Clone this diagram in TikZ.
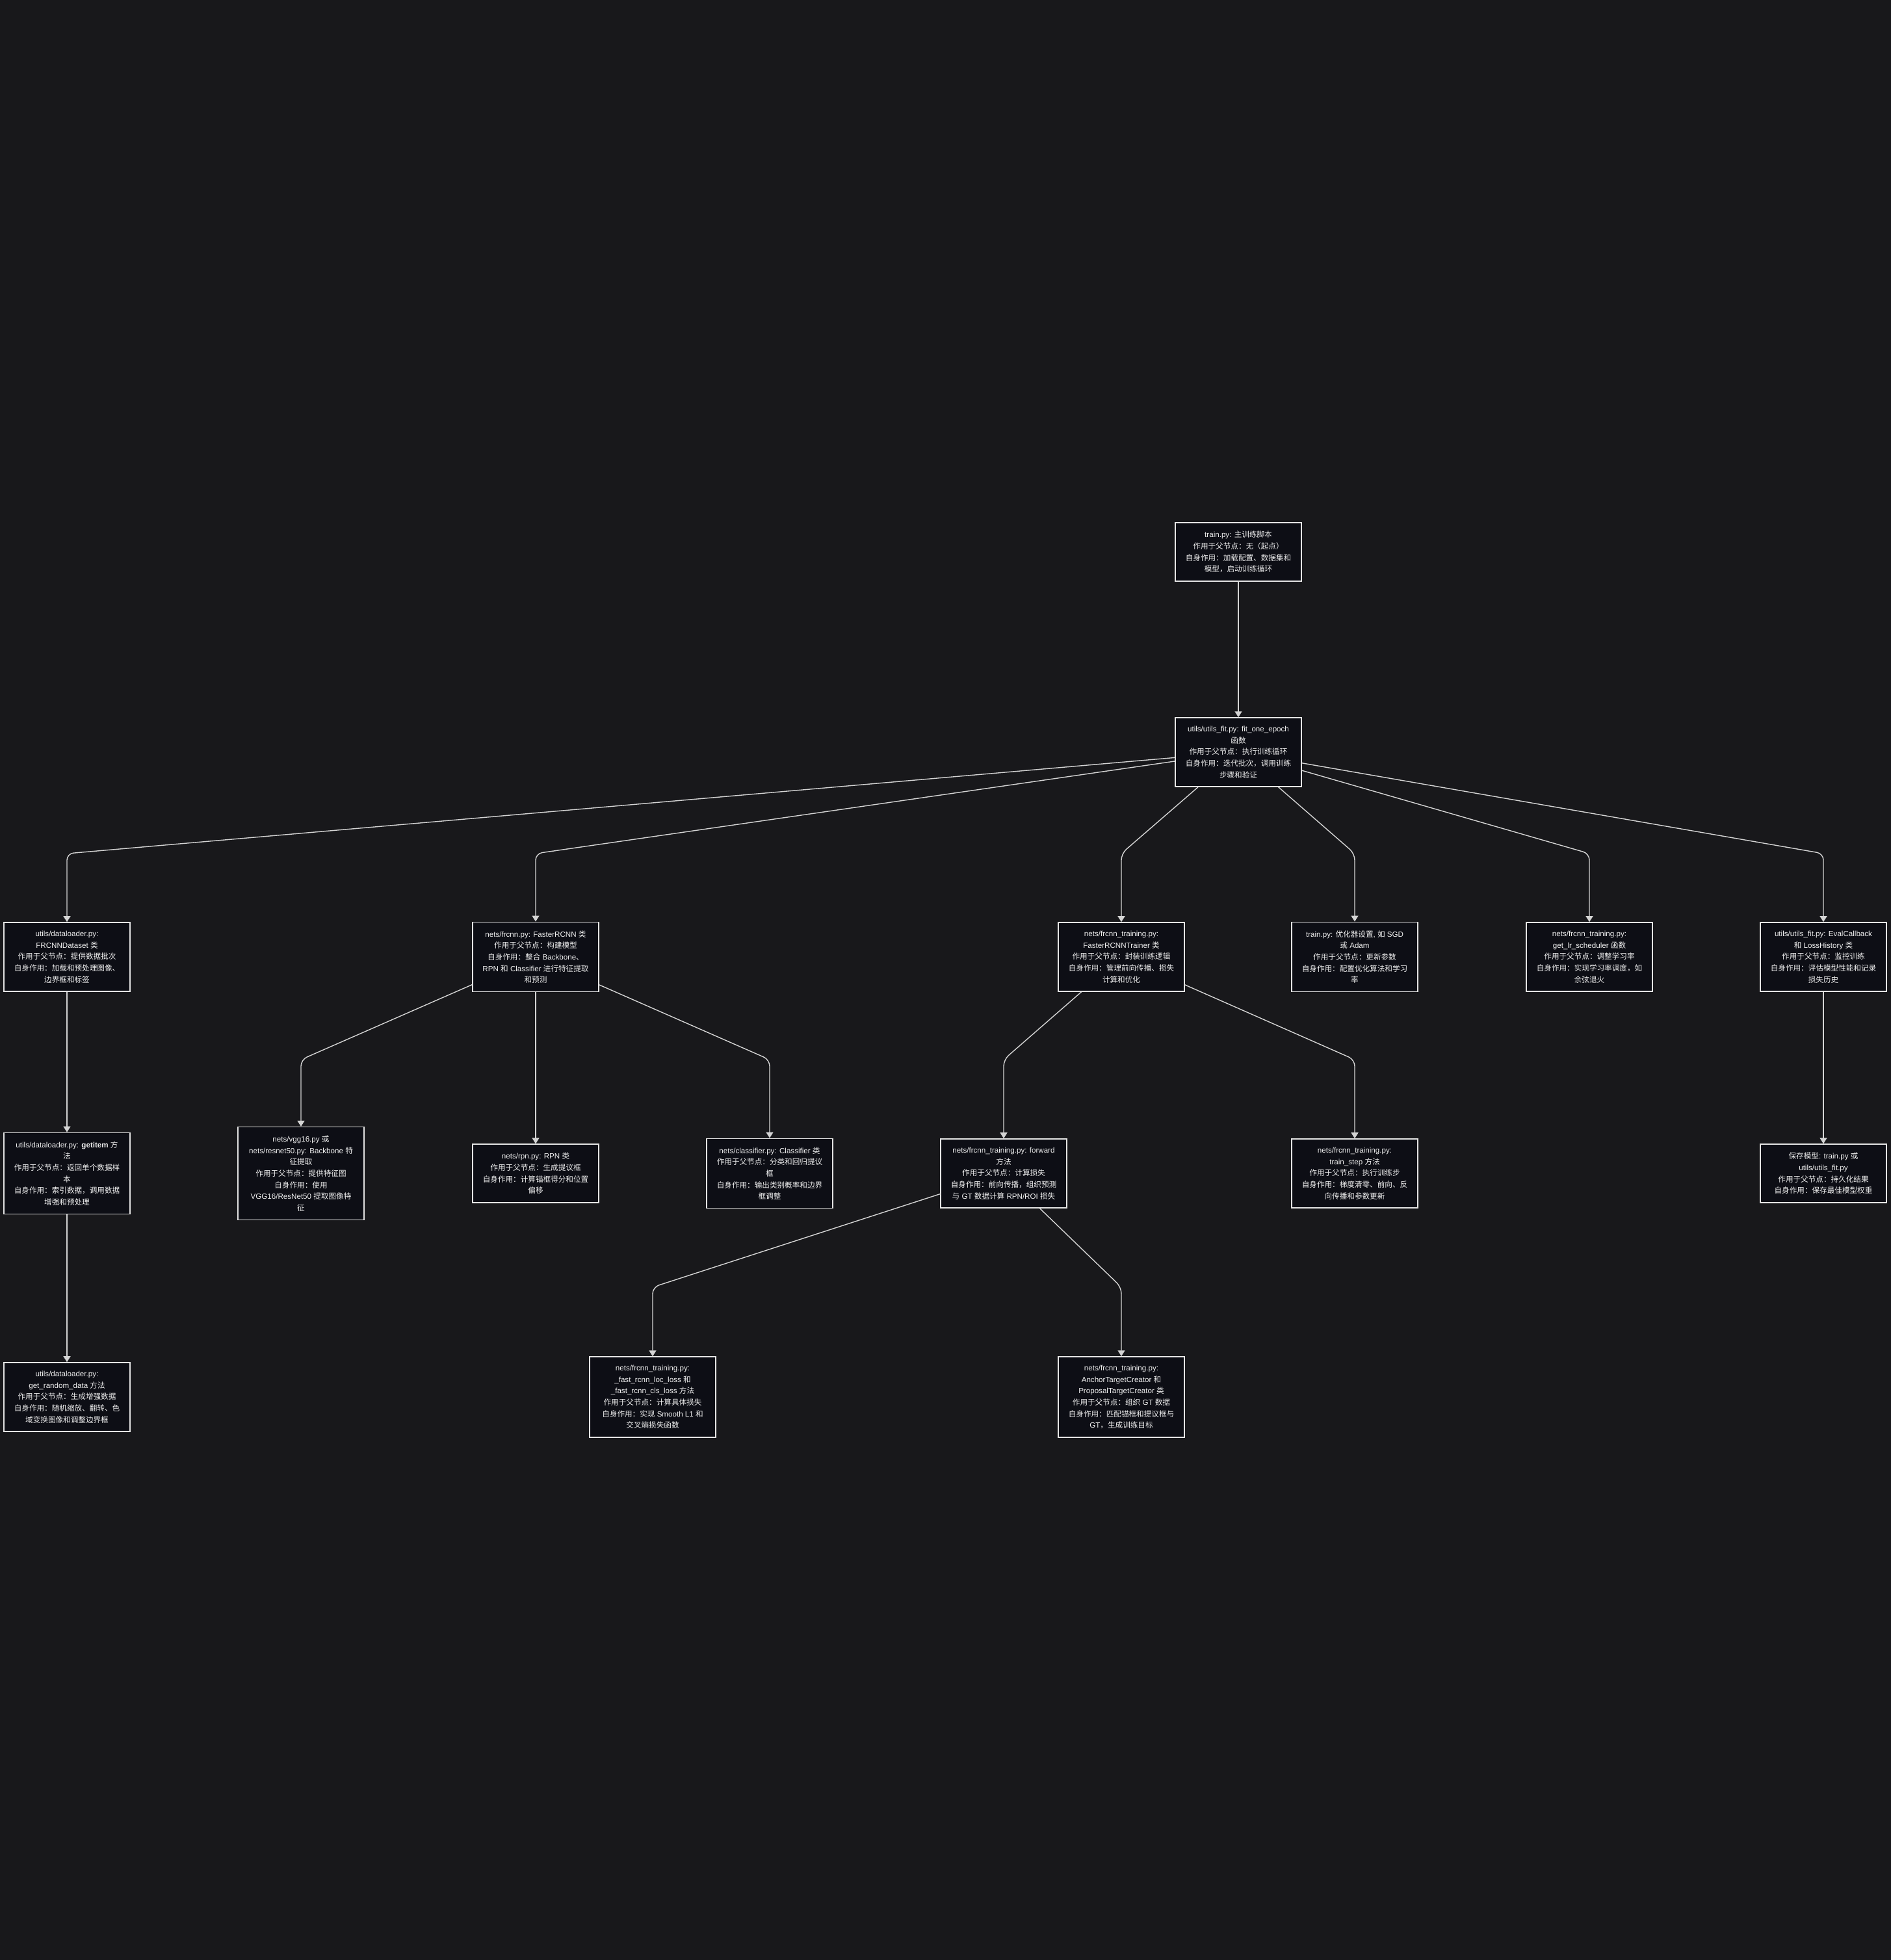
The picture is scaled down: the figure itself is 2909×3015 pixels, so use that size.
\documentclass[tikz,border=0pt]{standalone}
\usepackage{fontspec}
\usepackage{tikz}
\usetikzlibrary{arrows.meta}
\setmainfont{Liberation Sans}
\newfontfamily\cjk{Noto Sans CJK SC}
\newfontfamily\lat{Liberation Sans}
\XeTeXinterchartokenstate=1
\newXeTeXintercharclass\cjkclass
\newcount\cjkcnt
\cjkcnt="3000
\loop\XeTeXcharclass\cjkcnt=\cjkclass\relax\advance\cjkcnt by 1\relax\ifnum\cjkcnt<"3040 \repeat
\cjkcnt="4E00
\loop\XeTeXcharclass\cjkcnt=\cjkclass\relax\advance\cjkcnt by 1\relax\ifnum\cjkcnt<"A000 \repeat
\cjkcnt="FF00
\loop\XeTeXcharclass\cjkcnt=\cjkclass\relax\advance\cjkcnt by 1\relax\ifnum\cjkcnt<"FFF0 \repeat
\XeTeXinterchartoks 0 \cjkclass={\cjk}
\XeTeXinterchartoks 4095 \cjkclass={\cjk}
\XeTeXinterchartoks \cjkclass 0={\lat}
\XeTeXinterchartoks \cjkclass 4095={\lat}
\definecolor{bg}{RGB}{24,24,27}
\definecolor{boxfill}{RGB}{13,14,21}
\definecolor{boxline}{RGB}{228,228,228}
\definecolor{boxtext}{RGB}{240,240,240}
\definecolor{linkcol}{RGB}{212,212,212}

\begin{document}
\begin{tikzpicture}[x=1pt,y=-1pt,
    box/.style={draw=boxline,fill=boxfill,text=boxtext,line width=1.4pt,minimum width=194pt,inner xsep=5pt,inner ysep=13pt,align=center,font=\fontsize{11.6pt}{17.7pt}\selectfont},
    link/.style={draw=linkcol,line width=1.4pt,rounded corners=10pt,-{Triangle[length=9pt,width=11pt]}}]
        \fill[bg] (0,0) rectangle (2909,3015);
        \useasboundingbox (0,0) rectangle (2909,3015);
        \coordinate (row3) at (0,1313);
        \coordinate (row4) at (0,1630);
        \coordinate (row5) at (0,1980);
        \node[box] (train) at (1905,849) {train.py: 主训练脚本\\作用于父节点：无（起点）\\自身作用：加载配置、数据集和\\模型，启动训练循环};
        \node[box] (fit) at (1905,1157) {utils/utils\_fit.py: fit\_one\_epoch\\函数\\作用于父节点：执行训练循环\\自身作用：迭代批次，调用训练\\步骤和验证};
        \node[box] (dataset) at (103,1472) {utils/dataloader.py:\\FRCNNDataset 类\\作用于父节点：提供数据批次\\自身作用：加载和预处理图像、\\边界框和标签};
        \node[box] (frcnn) at (824,1472) {nets/frcnn.py: FasterRCNN 类\\作用于父节点：构建模型\\自身作用：整合 Backbone、\\RPN 和 Classifier 进行特征提取\\和预测};
        \node[box] (trainer) at (1725,1472) {nets/frcnn\_training.py:\\FasterRCNNTrainer 类\\作用于父节点：封装训练逻辑\\自身作用：管理前向传播、损失\\计算和优化};
        \node[box] (optim) at (2084,1472) {train.py: 优化器设置, 如 SGD\\或 Adam\\作用于父节点：更新参数\\自身作用：配置优化算法和学习\\率};
        \node[box] (lrsched) at (2445,1472) {nets/frcnn\_training.py:\\get\_lr\_scheduler 函数\\作用于父节点：调整学习率\\自身作用：实现学习率调度，如\\余弦退火};
        \node[box] (evalcb) at (2805,1472) {utils/utils\_fit.py: EvalCallback\\和 LossHistory 类\\作用于父节点：监控训练\\自身作用：评估模型性能和记录\\损失历史};
        \node[box] (getitem) at (103,1805) {utils/dataloader.py: \textbf{getitem} 方\\法\\作用于父节点：返回单个数据样\\本\\自身作用：索引数据，调用数据\\增强和预处理};
        \node[box] (backbone) at (463,1805) {nets/vgg16.py 或\\nets/resnet50.py: Backbone 特\\征提取\\作用于父节点：提供特征图\\自身作用：使用\\VGG16/ResNet50 提取图像特\\征};
        \node[box] (rpn) at (824,1805) {nets/rpn.py: RPN 类\\作用于父节点：生成提议框\\自身作用：计算锚框得分和位置\\偏移};
        \node[box] (classifier) at (1184,1805) {nets/classifier.py: Classifier 类\\作用于父节点：分类和回归提议\\框\\自身作用：输出类别概率和边界\\框调整};
        \node[box] (forward) at (1544,1805) {nets/frcnn\_training.py: forward\\方法\\作用于父节点：计算损失\\自身作用：前向传播，组织预测\\与 GT 数据计算 RPN/ROI 损失};
        \node[box] (trainstep) at (2084,1805) {nets/frcnn\_training.py:\\train\_step 方法\\作用于父节点：执行训练步\\自身作用：梯度清零、前向、反\\向传播和参数更新};
        \node[box] (savemodel) at (2805,1805) {保存模型: train.py 或\\utils/utils\_fit.py\\作用于父节点：持久化结果\\自身作用：保存最佳模型权重};
        \node[box] (randdata) at (103,2149) {utils/dataloader.py:\\get\_random\_data 方法\\作用于父节点：生成增强数据\\自身作用：随机缩放、翻转、色\\域变换图像和调整边界框};
        \node[box] (losses) at (1004,2149) {nets/frcnn\_training.py:\\\_fast\_rcnn\_loc\_loss 和\\\_fast\_rcnn\_cls\_loss 方法\\作用于父节点：计算具体损失\\自身作用：实现 Smooth L1 和\\交叉熵损失函数};
        \node[box] (targets) at (1725,2149) {nets/frcnn\_training.py:\\AnchorTargetCreator 和\\ProposalTargetCreator 类\\作用于父节点：组织 GT 数据\\自身作用：匹配锚框和提议框与\\GT，生成训练目标};
        \draw[link] (train) -- (fit);
        \draw[link] (fit) -- (dataset |- row3) -- (dataset);
        \draw[link] (fit) -- (frcnn |- row3) -- (frcnn);
        \draw[link] (fit) -- (trainer |- row3) -- (trainer);
        \draw[link] (fit) -- (optim |- row3) -- (optim);
        \draw[link] (fit) -- (lrsched |- row3) -- (lrsched);
        \draw[link] (fit) -- (evalcb |- row3) -- (evalcb);
        \draw[link] (dataset) -- (getitem);
        \draw[link] (frcnn) -- (backbone |- row4) -- (backbone);
        \draw[link] (frcnn) -- (rpn);
        \draw[link] (frcnn) -- (classifier |- row4) -- (classifier);
        \draw[link] (trainer) -- (forward |- row4) -- (forward);
        \draw[link] (trainer) -- (trainstep |- row4) -- (trainstep);
        \draw[link] (evalcb) -- (savemodel);
        \draw[link] (getitem) -- (randdata);
        \draw[link] (forward) -- (losses |- row5) -- (losses);
        \draw[link] (forward) -- (targets |- row5) -- (targets);
\end{tikzpicture}
\end{document}
